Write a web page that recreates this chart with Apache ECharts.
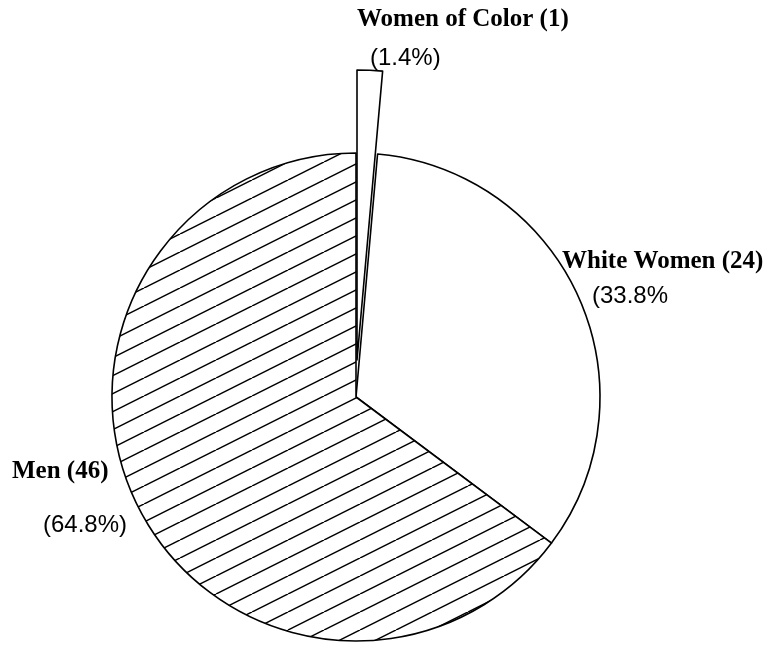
<!DOCTYPE html>
<html>
<head>
<meta charset="utf-8">
<title>ECharts</title>
<script src="https://cdn.jsdelivr.net/npm/echarts@6/dist/echarts.min.js"></script>
</head>
<body style="margin:0;background:#fff">
<div id="main" style="width:772px;height:651px;"></div>
<script type="text/javascript">
var names = ['Women of Color', 'White Women', 'Men'];
var counts = [1, 24, 46];
var pctLabels = ['(1.4%)', '(33.8%', '(64.8%)'];
// where each label sits: [name x, name y, pct x, pct y]
var labelPos = [[357, 20, 370, 58], [562, 262, 592, 296], [12, 472, 43, 525]];

var myChart = echarts.init(document.getElementById('main'));

// diagonal hatch tile for the Men slice
var tile = document.createElement('canvas');
tile.width = 36; tile.height = 18;
var ctx = tile.getContext('2d');
ctx.fillStyle = '#fff';
ctx.fillRect(0, 0, 36, 18);
ctx.strokeStyle = '#000';
ctx.lineWidth = 1.5;
[-36, 0, 36].forEach(function (dx) {
    ctx.beginPath();
    ctx.moveTo(dx, 18);
    ctx.lineTo(dx + 36, 0);
    ctx.stroke();
});
var fills = ['#fff', '#fff', { image: tile, repeat: 'repeat' }];

// main pie: the small slice is left empty, it is drawn pulled out below
var mainData = names.map(function (n, i) {
    var hide = i === 0;
    return {
        name: n, value: counts[i],
        itemStyle: {
            color: hide ? 'rgba(0,0,0,0)' : fills[i],
            borderColor: '#000',
            borderWidth: hide ? 0 : 1.6
        }
    };
});
// exploded sliver
var sliverData = names.map(function (n, i) {
    var show = i === 0;
    return {
        name: n, value: counts[i],
        itemStyle: {
            color: show ? '#fff' : 'rgba(0,0,0,0)',
            borderColor: '#000',
            borderWidth: show ? 1.6 : 0
        }
    };
});

var graphics = [];
names.forEach(function (n, i) {
    var p = labelPos[i];
    graphics.push({
        type: 'text', x: p[0], y: p[1], silent: true,
        style: {
            text: n + ' (' + counts[i] + ')',
            font: 'bold 25px "Liberation Serif"',
            fill: '#000', verticalAlign: 'middle'
        }
    });
    graphics.push({
        type: 'text', x: p[2], y: p[3], silent: true,
        style: {
            text: pctLabels[i],
            font: '24px "Liberation Sans"',
            fill: '#000', verticalAlign: 'middle'
        }
    });
});

var base = {
    type: 'pie',
    startAngle: 90,
    clockwise: true,
    silent: true,
    label: { show: false },
    labelLine: { show: false },
    emphasis: { disabled: true }
};

option = {
    animation: false,
    backgroundColor: '#fff',
    graphic: graphics,
    series: [
        Object.assign({}, base, { center: [356, 397], radius: 244, data: mainData }),
        Object.assign({}, base, { center: [357, 360], radius: 290, data: sliverData })
    ]
};

myChart.setOption(option);
</script>
</body>
</html>
